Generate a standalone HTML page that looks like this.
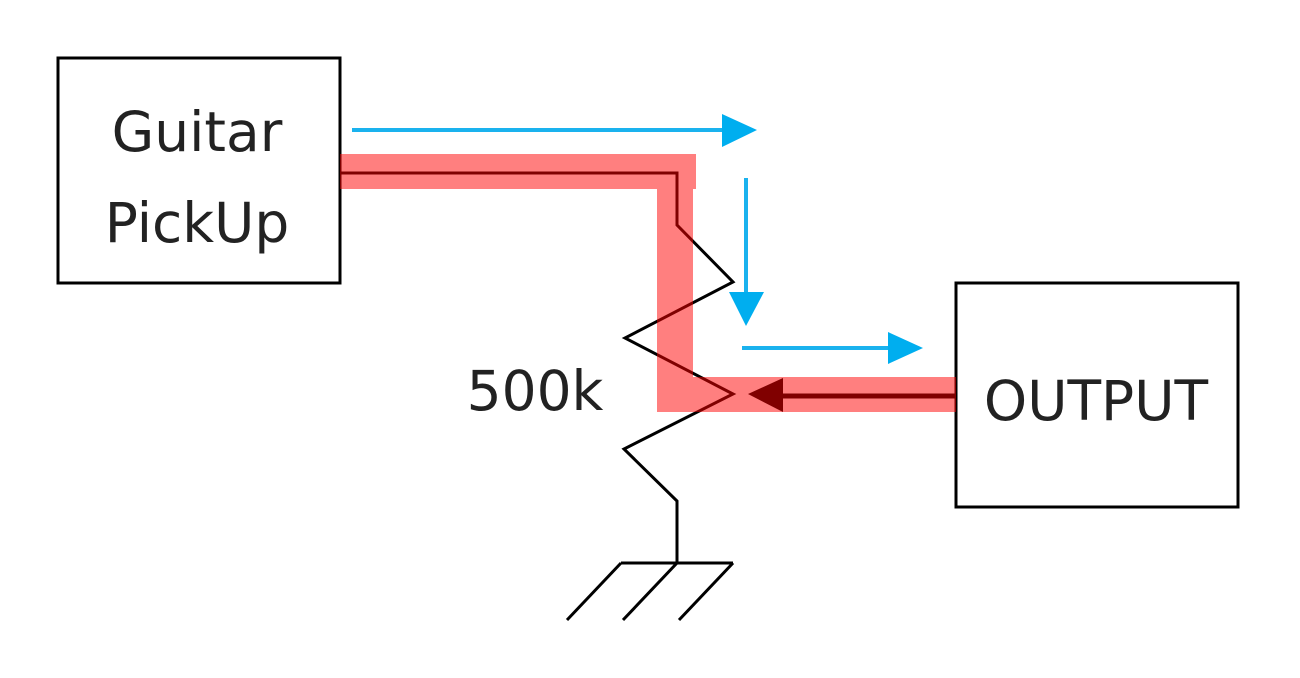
<!DOCTYPE html>
<html><head><style>body{margin:0;background:#fff}</style></head><body>
<svg width="1300" height="678" viewBox="0 0 1300 678" xmlns="http://www.w3.org/2000/svg" style="display:block">
<g fill="none" stroke="#000" stroke-width="3">
<rect x="58" y="58" width="282" height="225"/>
<rect x="956" y="283" width="282" height="224"/>
<polyline points="340,173 677,173 677,225 733,282 625,338 733,394 624,449 677,501 677,563"/>
<line x1="621" y1="563" x2="733" y2="563"/>
<line x1="621" y1="563" x2="567" y2="620"/>
<line x1="677" y1="563" x2="623" y2="620"/>
<line x1="733" y1="563" x2="679" y2="620"/>
</g>
<g fill="rgba(255,0,0,0.5)">
<rect x="340" y="154" width="356" height="35"/>
<rect x="657" y="189" width="36" height="188"/>
<rect x="657" y="377" width="299" height="35"/>
</g>
<line x1="955" y1="396" x2="778" y2="396" stroke="#800000" stroke-width="5"/>
<polygon points="748,394 783,378 783,412" fill="#800000"/>
<g stroke="#1ab2ee" stroke-width="4" fill="#00aeef">
<line x1="352" y1="130" x2="725" y2="130"/>
<polygon points="757,130 722,114 722,147" stroke="none"/>
<line x1="746" y1="178" x2="746" y2="295"/>
<polygon points="746,326 729,292 764,292" stroke="none"/>
<line x1="742" y1="348" x2="890" y2="348"/>
<polygon points="923,348 888,332 888,364" stroke="none"/>
</g>
<g font-family="'DejaVu Sans',sans-serif" font-size="55" fill="#222" text-anchor="middle">
<text x="197" y="151">Guitar</text>
<text x="197" y="242">PickUp</text>
<text x="1096" y="420">OUTPUT</text>
<text x="535" y="410">500k</text>
</g>
</svg>
</body></html>
